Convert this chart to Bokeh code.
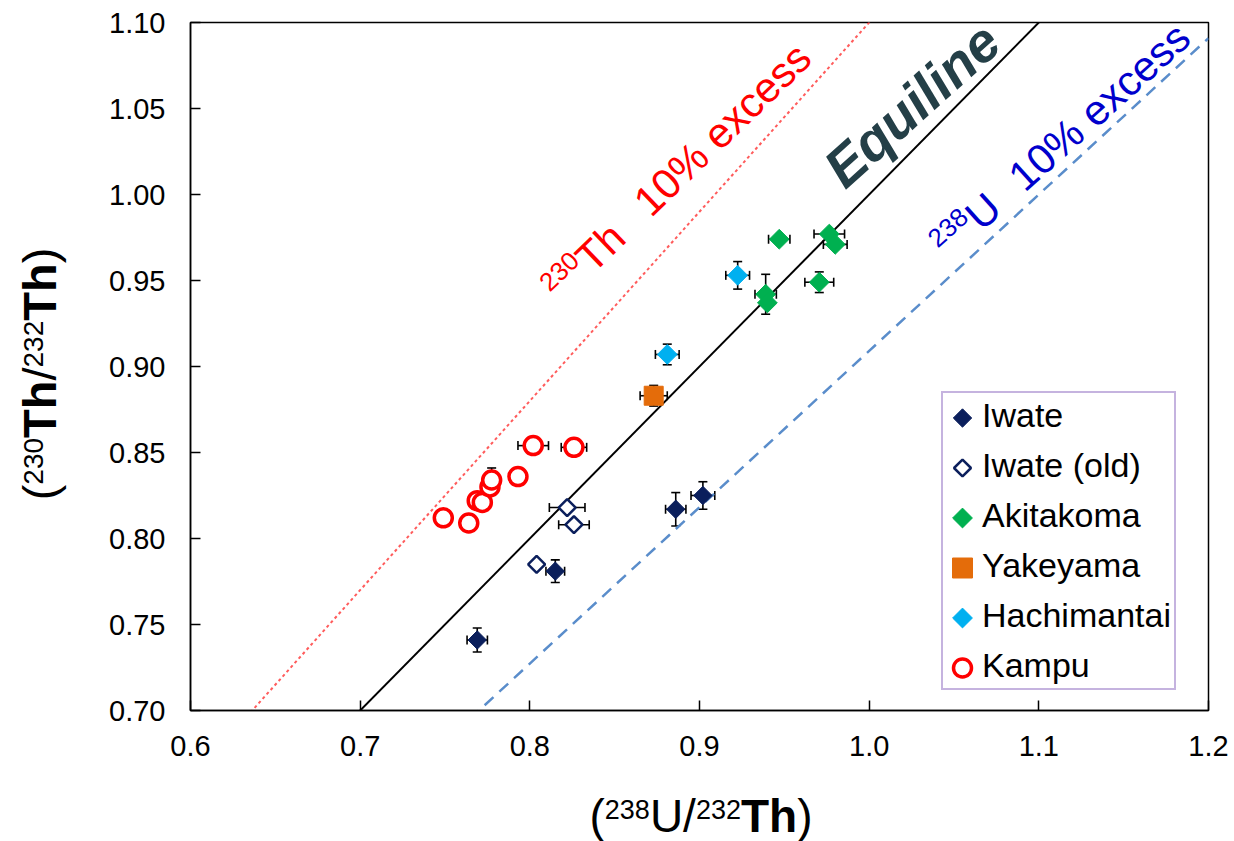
import math
from bokeh.plotting import figure
from bokeh.models import (Range1d, FixedTicker, Label, Legend, LegendItem,
                          Whisker, ColumnDataSource, TeeHead, Div)
from bokeh.layouts import row, column
from bokeh.embed import file_html
from bokeh.resources import INLINE

# ---------------- data ----------------
iwate_x = [0.769, 0.815, 0.886, 0.902]
iwate_y = [0.741, 0.781, 0.817, 0.825]
iwate_xerr = [0.006, 0.0055, 0.006, 0.007]
iwate_yerr = [0.007, 0.0066, 0.0097, 0.008]

iwate_old_x = [0.822, 0.826, 0.804]
iwate_old_y = [0.818, 0.808, 0.785]
iwate_old_xerr = [0.0105, 0.009, 0.0]
iwate_old_yerr = [0.0, 0.0, 0.0]

akitakoma_x = [0.947, 0.9765, 0.980, 0.9706, 0.939, 0.940]
akitakoma_y = [0.974, 0.977, 0.971, 0.949, 0.942, 0.937]
akitakoma_xerr = [0.0063, 0.009, 0.007, 0.0085, 0.0063, 0.0]
akitakoma_yerr = [0.0, 0.0, 0.0, 0.006, 0.0116, 0.0]

yakeyama_x = [0.873]
yakeyama_y = [0.883]
yakeyama_xerr = [0.008]
yakeyama_yerr = [0.006]

hachimantai_x = [0.881, 0.9225]
hachimantai_y = [0.907, 0.953]
hachimantai_xerr = [0.007, 0.007]
hachimantai_yerr = [0.006, 0.008]

kampu_x = [0.749, 0.764, 0.769, 0.772, 0.7765, 0.7775, 0.793, 0.802, 0.826]
kampu_y = [0.812, 0.809, 0.822, 0.821, 0.830, 0.834, 0.836, 0.854, 0.853]
kampu_xerr = [0, 0, 0, 0, 0, 0, 0, 0.009, 0.0075]
kampu_yerr = [0, 0, 0, 0, 0, 0.007, 0, 0, 0]

# reference lines: y = ratio * x
line_x = [0.6, 1.2]
equiline_ratio = 1.0
th_excess_ratio = 1.1
u_excess_ratio = 1 / 1.1

x_ticks = [0.6, 0.7, 0.8, 0.9, 1.0, 1.1, 1.2]
x_tick_labels = ["0.6", "0.7", "0.8", "0.9", "1.0", "1.1", "1.2"]
y_ticks = [0.70, 0.75, 0.80, 0.85, 0.90, 0.95, 1.00, 1.05, 1.10]
y_tick_labels = ["0.70", "0.75", "0.80", "0.85", "0.90", "0.95", "1.00", "1.05", "1.10"]

legend_labels = ["Iwate", "Iwate (old)", "Akitakoma", "Yakeyama", "Hachimantai", "Kampu"]

# ---------------- layout ----------------
W, H = 1234, 841
YDIV_W = 70
XDIV_H = 51
FL, FR, FT, FB = 190, 1208, 22, 710      # frame in page pixels
X0, X1, Y0, Y1 = 0.6, 1.2, 0.70, 1.10

def X(px):
    return X0 + (px - FL) / (FR - FL) * (X1 - X0)

def Y(py):
    return Y1 - (py - FT) / (FB - FT) * (Y1 - Y0)

FONT = "Liberation Sans"
NAVY = "#0B1F5C"
GREEN = "#00B050"
ORANGE = "#E46C0A"
CYAN = "#00B0F0"
RED = "#FF0000"

p = figure(width=W - YDIV_W, height=H - XDIV_H, output_backend="svg", toolbar_location=None,
           x_range=Range1d(X0, X1), y_range=Range1d(Y0, Y1),
           min_border_left=FL - YDIV_W, min_border_right=W - FR,
           min_border_top=FT, min_border_bottom=H - XDIV_H - FB, margin=0)
p.background_fill_color = "white"
p.border_fill_color = "white"
p.grid.visible = False
p.outline_line_color = "black"
p.outline_line_width = 1.5

for ax, ticks, labels in ((p.xaxis[0], x_ticks, x_tick_labels), (p.yaxis[0], y_ticks, y_tick_labels)):
    ax.ticker = FixedTicker(ticks=ticks)
    ax.major_label_overrides = {t: l for t, l in zip(ticks, labels)}
    ax.major_tick_in = 10
    ax.major_tick_out = 0
    ax.minor_tick_line_color = None
    ax.axis_line_color = "black"
    ax.axis_line_width = 1.5
    ax.major_tick_line_color = "black"
    ax.major_tick_line_width = 1.5
    ax.major_label_text_font = FONT
    ax.major_label_text_font_size = "29px"
    ax.major_label_text_color = "black"
p.xaxis[0].major_label_standoff = 25
p.yaxis[0].major_label_standoff = 25

# reference lines
p.line(line_x, [equiline_ratio * v for v in line_x], line_color="black", line_width=2)
p.line(line_x, [th_excess_ratio * v for v in line_x], line_color="#FF5C5C", line_width=2, line_dash="3 3")
p.line(line_x, [u_excess_ratio * v for v in line_x], line_color="#5A8DCB", line_width=2.5, line_dash="12 8")

# error bars
def add_errors(xs, ys, xe, ye):
    bx = [(x, y, e) for x, y, e in zip(xs, ys, xe) if e > 0]
    by = [(x, y, e) for x, y, e in zip(xs, ys, ye) if e > 0]
    for bars, dim in ((bx, "width"), (by, "height")):
        if not bars:
            continue
        if dim == "width":
            src = ColumnDataSource(dict(base=[b[1] for b in bars],
                                        lo=[b[0] - b[2] for b in bars],
                                        hi=[b[0] + b[2] for b in bars]))
        else:
            src = ColumnDataSource(dict(base=[b[0] for b in bars],
                                        lo=[b[1] - b[2] for b in bars],
                                        hi=[b[1] + b[2] for b in bars]))
        p.add_layout(Whisker(source=src, base="base", lower="lo", upper="hi", dimension=dim,
                             line_color="black", line_width=1.6, level="underlay",
                             upper_head=TeeHead(size=9, line_color="black", line_width=1.6),
                             lower_head=TeeHead(size=9, line_color="black", line_width=1.6)))

add_errors(iwate_x, iwate_y, iwate_xerr, iwate_yerr)
add_errors(iwate_old_x, iwate_old_y, iwate_old_xerr, iwate_old_yerr)
add_errors(akitakoma_x, akitakoma_y, akitakoma_xerr, akitakoma_yerr)
add_errors(yakeyama_x, yakeyama_y, yakeyama_xerr, yakeyama_yerr)
add_errors(hachimantai_x, hachimantai_y, hachimantai_xerr, hachimantai_yerr)
add_errors(kampu_x, kampu_y, kampu_xerr, kampu_yerr)

D = math.pi / 4
STYLES = {
    "Iwate": dict(marker="square", angle=D, size=13, fill_color=NAVY, line_color=NAVY, line_width=1),
    "Iwate (old)": dict(marker="square", angle=D, size=12, fill_color="white", line_color=NAVY, line_width=2.5),
    "Akitakoma": dict(marker="square", angle=D, size=14, fill_color=GREEN, line_color=GREEN, line_width=1),
    "Yakeyama": dict(marker="square", angle=0, size=19, fill_color=ORANGE, line_color=ORANGE, line_width=1),
    "Hachimantai": dict(marker="square", angle=D, size=14, fill_color=CYAN, line_color=CYAN, line_width=1),
    "Kampu": dict(marker="circle", angle=0, size=18, fill_color="white", line_color=RED, line_width=3.5),
}
SERIES = {
    "Kampu": (kampu_x, kampu_y),
    "Iwate (old)": (iwate_old_x, iwate_old_y),
    "Iwate": (iwate_x, iwate_y),
    "Yakeyama": (yakeyama_x, yakeyama_y),
    "Hachimantai": (hachimantai_x, hachimantai_y),
    "Akitakoma": (akitakoma_x, akitakoma_y),
}
for name, (xs, ys) in SERIES.items():
    p.scatter(xs, ys, **STYLES[name])

# ---------------- legend ----------------
LEG_LEFT, LEG_BOTTOM = 941, 690
LEG_PAD, LEG_ITEM_H, LEG_SP, LEG_GW = 3, 39, 11, 34
items = []
for name in legend_labels:
    st = dict(STYLES[name])
    dummy = p.scatter([], [], **st)
    dummy.glyph.fill_alpha = 0
    dummy.glyph.line_alpha = 0
    items.append(LegendItem(label=name, renderers=[dummy]))
legend = Legend(items=items, location=(LEG_LEFT - FL, FB - LEG_BOTTOM))
legend.border_line_color = "#8C68C0"
legend.border_line_width = 2
legend.background_fill_alpha = 0
legend.padding = LEG_PAD
legend.spacing = LEG_SP
legend.margin = 0
legend.glyph_width = LEG_GW
legend.glyph_height = 34
legend.label_height = LEG_ITEM_H
legend.label_standoff = 2
legend.label_text_font = FONT
legend.label_text_font_size = "34px"
legend.label_text_color = "black"
legend.label_text_baseline = "middle"
p.add_layout(legend)

# legend swatches (drawn inside the transparent legend box)
n = len(legend_labels)
leg_top = LEG_BOTTOM - (2 * LEG_PAD + n * LEG_ITEM_H + (n - 1) * LEG_SP)
for i, name in enumerate(legend_labels):
    cx = LEG_LEFT + LEG_PAD + LEG_GW / 2 + 1
    cy = leg_top + LEG_PAD + LEG_ITEM_H / 2 + i * (LEG_ITEM_H + LEG_SP)
    st = dict(STYLES[name])
    if name == "Yakeyama":
        st["size"] = 20
    p.scatter([X(cx)], [Y(cy)], **st)

# ---------------- in-plot texts ----------------
WID = {'0': .556, '1': .556, '2': .556, '3': .556, '8': .556, '%': .889, ' ': .278,
       'e': .556, 'x': .5, 'c': .5, 's': .5, 'T': .611, 'h': .556, 'U': .722}

def text_width(t, size):
    return sum(WID.get(ch, .556) for ch in t) * size

def run_pieces(pieces, ox, oy, ang_deg, color):
    a = math.radians(ang_deg)
    ux, uy = math.cos(a), -math.sin(a)
    nx, ny = -math.sin(a), -math.cos(a)
    s = 0.0
    for text, size, rise, gap in pieces:
        s += gap
        bx = ox + ux * s + nx * rise
        by = oy + uy * s + ny * rise
        p.add_layout(Label(x=X(bx), y=Y(by), text=text, angle=a, angle_units="rad",
                           text_font=FONT, text_font_size=f"{size}px",
                           text_color=color, text_align="left", text_baseline="alphabetic"))
        s += text_width(text, size)

FA, FSA = 42, 26
RA = 0.716 * (FA - FSA)
run_pieces([("230", FSA, RA, 0), ("Th", FA, 0, 0), ("10% excess", FA, 0, 32)], 551, 294, 44, RED)
run_pieces([("238", FSA, RA, 0), ("U", FA, 0, 0), ("10% excess", FA, 0, 28)], 939, 250, 42, "#0000CC")

p.add_layout(Label(x=X(832), y=Y(176), text="Equiline", angle=math.radians(42),
                   angle_units="rad", text_font=FONT, text_font_size="55px",
                   text_font_style="bold italic", text_color="#243F47",
                   text_align="left", text_baseline="alphabetic"))

# ---------------- axis titles (HTML with superscripts) ----------------
CSSFONT = "font-family:'Liberation Sans',Arial,sans-serif;color:#000;white-space:nowrap;"

def sup(t, fs, rise):
    return f'<span style="font-size:{fs}px;vertical-align:{rise:.1f}px;line-height:0;">{t}</span>'

FXL, FXS = 46, 27
rx = 0.716 * (FXL - FXS)
x_title = f"({sup('238', FXS, rx)}U/{sup('232', FXS, rx)}<b>Th</b>)"
bx = 832 - (H - XDIV_H)               # baseline inside the div
top_x = bx - 0.8465 * FXL
x_html = (f'<div style="position:relative;width:{W}px;height:{XDIV_H}px;">'
          f'<div style="position:absolute;left:0;top:0;{CSSFONT}font-size:{FXL}px;line-height:{FXL}px;'
          f'transform-origin:0 0;transform:translate(701px,{top_x:.1f}px) translateX(-50%);">'
          f'{x_title}</div></div>')

FYL, FYS = 47, 28
ry = 0.716 * (FYL - FYS)
y_title = f"({sup('230', FYS, ry)}<b>Th</b>/{sup('232', FYS, ry)}<b>Th</b>)"
tx = 56 - 0.8465 * FYL
y_html = (f'<div style="position:relative;width:{YDIV_W}px;height:{H - XDIV_H}px;">'
          f'<div style="position:absolute;left:0;top:0;{CSSFONT}font-size:{FYL}px;line-height:{FYL}px;'
          f'transform-origin:0 0;transform:translate({tx:.1f}px,374px) rotate(-90deg) translateX(-50%);">'
          f'{y_title}</div></div>')

ydiv = Div(text=y_html, width=YDIV_W, height=H - XDIV_H, margin=0)
xdiv = Div(text=x_html, width=W, height=XDIV_H, margin=0)

layout = column(row(ydiv, p, spacing=0), xdiv, spacing=0)

open("out.html", "w").write(file_html(layout, INLINE))
